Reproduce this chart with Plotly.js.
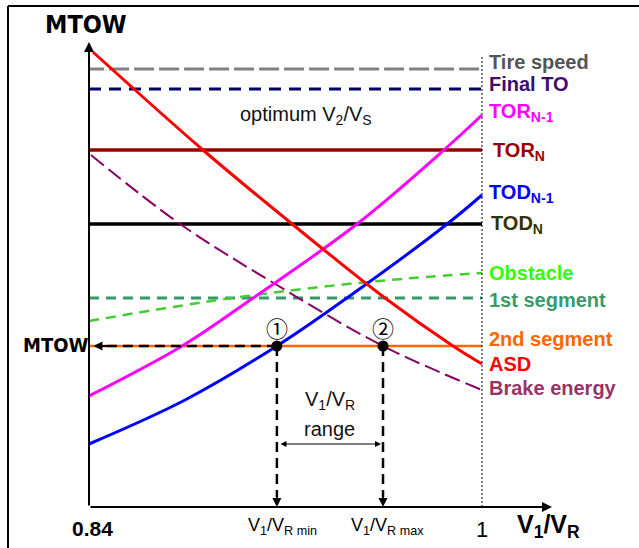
<!DOCTYPE html>
<html>
<head>
<meta charset="utf-8">
<script src="https://cdn.plot.ly/plotly-3.0.1.min.js"></script>
<style>html,body{margin:0;padding:0;background:#fff;}</style>
</head>
<body>
<div id="chart" style="width:639px;height:548px;"></div>
<script>
// ---- Data (schematic MTOW index vs V1/VR) ----
const xMin = 0.84, xOne = 1.0;
const tireSpeed = 438;
const finalTO = 418;
const torN = 357;
const todN = 283;
const firstSegment = 209;
const secondSegment = 161;

const obstacleX = [0.84, 0.8872, 0.9340, 0.9719, 1.0];
const obstacleY = [186, 205, 220, 229, 234];

const asdX = [0.8416, 0.8864, 0.9227, 0.9605, 0.9882, 1.0];
const asdY = [455, 357, 283, 209, 161, 143];

const torN1X = [0.84, 0.8779, 0.9068, 0.9491, 0.9845, 1.0];
const torN1Y = [111, 161, 209, 283, 357, 392];

const todN1X = [0.84, 0.8791, 0.9165, 0.9450, 0.9858, 1.0];
const todN1Y = [63, 107, 161, 209, 283, 312];

const brakeX = [0.8408, 0.8771, 0.9165, 0.9597, 1.0];
const brakeY = [352, 283, 222, 161, 117];

const v1Min = 0.9165, v1Max = 0.9597;
const mtow = secondSegment;

const xEnd = 1.0285, yTop = 465;

const FONT = 'Liberation Sans, Arial, sans-serif';
const NARROW = 'Liberation Sans Narrow, DejaVu Sans Condensed, Arial Narrow, sans-serif';

function hline(y, x0, x1, color, width, dash) {
  return {x:[x0, x1], y:[y, y], mode:'lines', line:{color, width, dash: dash || 'solid'}, hoverinfo:'skip', cliponaxis:false};
}
function curve(xs, ys, color, width, dash) {
  return {x:xs, y:ys, mode:'lines', line:{color, width, dash: dash || 'solid', shape:'spline', smoothing:1}, hoverinfo:'skip', cliponaxis:false};
}

const traces = [
  hline(tireSpeed, 0.838, xOne, '#808080', 3, '20px,5px'),
  hline(finalTO, xMin, xOne, '#000066', 3, '12px,8px'),
  hline(torN, xMin, xOne, '#990000', 3.5),
  hline(todN, xMin, xOne, '#000000', 3.5),
  hline(firstSegment, xMin, xOne, '#339966', 3, '10px,7px'),
  curve(obstacleX, obstacleY, '#44cc33', 2.5, '10px,7px'),
  hline(secondSegment, xMin, xOne, '#ff6600', 2.5),
  // vertical dotted at V1/VR = 1
  {x:[xOne, xOne], y:[450, 0], mode:'lines', line:{color:'#000', width:1, dash:'2px,2px'}, hoverinfo:'skip', cliponaxis:false},
  curve(brakeX, brakeY, '#880066', 2, '16px,6px'),
  curve(torN1X, torN1Y, '#ff00ff', 3),
  curve(todN1X, todN1Y, '#0000ff', 3),
  curve(asdX, asdY, '#ff0000', 3),
  // MTOW dashed projection
  {x:[v1Min, 0.8435], y:[mtow, mtow], mode:'lines', line:{color:'#000', width:2.5, dash:'10px,6px'}, hoverinfo:'skip', cliponaxis:false},
  {x:[v1Min, v1Min], y:[mtow, 10], mode:'lines', line:{color:'#000', width:2.5, dash:'10px,6px'}, hoverinfo:'skip', cliponaxis:false},
  {x:[v1Max, v1Max], y:[mtow, 10], mode:'lines', line:{color:'#000', width:2.5, dash:'10px,6px'}, hoverinfo:'skip', cliponaxis:false},
  {x:[v1Min, v1Max], y:[mtow, mtow], mode:'markers', marker:{color:'#000', size:11}, hoverinfo:'skip', cliponaxis:false}
];

function arrow(x, y, ax, ay, w, side) {
  return {x, y, ax, ay, xref:'x', yref:'y', axref:'x', ayref:'y', text:'', showarrow:true,
    arrowhead:2, arrowsize:1, arrowwidth:w, arrowcolor:'#000', arrowside: side || 'end'};
}
function label(text, yPx, color, xPx) {
  return {x: xMin + ((xPx || 487) - 89) * 0.16 / 393, y: 507 - yPx, xref:'x', yref:'y', text,
    showarrow:false, xanchor:'left', yanchor:'middle',
    font:{family:FONT, size:20, color, weight:'bold'}};
}
// text placed in paper coordinates from picture pixel positions
function ptext(text, xPx, yPx, size, family, bold) {
  return {x:(xPx - 89) / 463, y:(507 - yPx) / 465, xref:'paper', yref:'paper', text, showarrow:false,
    xanchor:'center', yanchor:'middle', font:{family, size, color:'#000', weight: bold ? 'bold' : 'normal'}};
}

const annotations = [
  arrow(xMin, yTop, xMin, 0, 2),
  arrow(xEnd, 0, xMin, 0, 2),
  arrow(0.8418, mtow, 0.8480, mtow, 1.8),
  arrow(v1Min, 0, v1Min, 14, 1.8),
  arrow(v1Max, 0, v1Max, 14, 1.8),
  arrow(0.95888, 63, 0.91735, 63, 1.2, 'end+start'),
  label('Tire speed', 62, '#555555'),
  label('Final TO', 84, '#3a0f6a'),
  label('TOR<sub>N-1</sub>', 112, '#ff00ff'),
  label('TOR<sub>N</sub>', 151, '#990000', 491),
  label('TOD<sub>N-1</sub>', 193, '#0000ff'),
  label('TOD<sub>N</sub>', 224, '#333300', 489),
  label('Obstacle', 273, '#33ff00'),
  label('1st segment', 300, '#3a9a6a'),
  label('2nd segment', 339, '#ff6600'),
  label('ASD', 364, '#ff0000'),
  label('Brake energy', 388, '#993366'),
  {x:0.92835, y:507-115, xref:'x', yref:'y', text:'optimum V<sub>2</sub>/V<sub>S</sub>', showarrow:false,
    xanchor:'center', yanchor:'middle', font:{family:FONT, size:20, color:'#111'}},
  {x:0.9381, y:507-400, xref:'x', yref:'y', text:'V<sub>1</sub>/V<sub>R</sub>', showarrow:false,
    xanchor:'center', yanchor:'middle', font:{family:FONT, size:20, color:'#111'}},
  {x:0.9381, y:507-429, xref:'x', yref:'y', text:'range', showarrow:false,
    xanchor:'center', yanchor:'middle', font:{family:FONT, size:20, color:'#111'}},
  {x:v1Min, y:507-327, xref:'x', yref:'y', text:'\u2460', showarrow:false,
    xanchor:'center', yanchor:'middle', font:{family:'Noto Sans CJK JP, DejaVu Sans', size:22, color:'#000'}},
  {x:v1Max, y:507-327, xref:'x', yref:'y', text:'\u2461', showarrow:false,
    xanchor:'center', yanchor:'middle', font:{family:'Noto Sans CJK JP, DejaVu Sans', size:22, color:'#000'}},
  ptext('MTOW', 86, 25, 25, NARROW, true),
  ptext('MTOW', 55, 345, 20, NARROW, true),
  ptext('0.84', 92, 528, 21, FONT, true),
  ptext('V<sub>1</sub>/V<sub>R min</sub>', 282, 526, 18, FONT, false),
  ptext('V<sub>1</sub>/V<sub>R max</sub>', 387, 526, 18, FONT, false),
  ptext('1', 482, 529, 22, FONT, false),
  ptext('V<sub>1</sub>/V<sub>R</sub>', 548, 526, 25, FONT, true)
];

// outer frame: only the left and top edges are visible in the picture
const frameL = (8 - 89) / 463, frameT = (507 - 6) / 465;
const layout = {
  width:639, height:548,
  margin:{l:89, r:87, t:42, b:41, pad:0},
  paper_bgcolor:'#fff', plot_bgcolor:'#fff',
  showlegend:false,
  xaxis:{range:[xMin, xEnd], showgrid:false, zeroline:false, showticklabels:false, showline:false, ticks:'', fixedrange:true},
  yaxis:{range:[0, yTop], showgrid:false, zeroline:false, showticklabels:false, showline:false, ticks:'', fixedrange:true},
  annotations,
  shapes:[
    {type:'line', xref:'paper', yref:'paper', x0:frameL, x1:frameL, y0:-0.2, y1:frameT, line:{color:'#000', width:2}},
    {type:'line', xref:'paper', yref:'paper', x0:frameL, x1:1.3, y0:frameT, y1:frameT, line:{color:'#000', width:2}}
  ]
};

Plotly.newPlot('chart', traces, layout, {displayModeBar:false, staticPlot:true});
</script>
</body>
</html>
